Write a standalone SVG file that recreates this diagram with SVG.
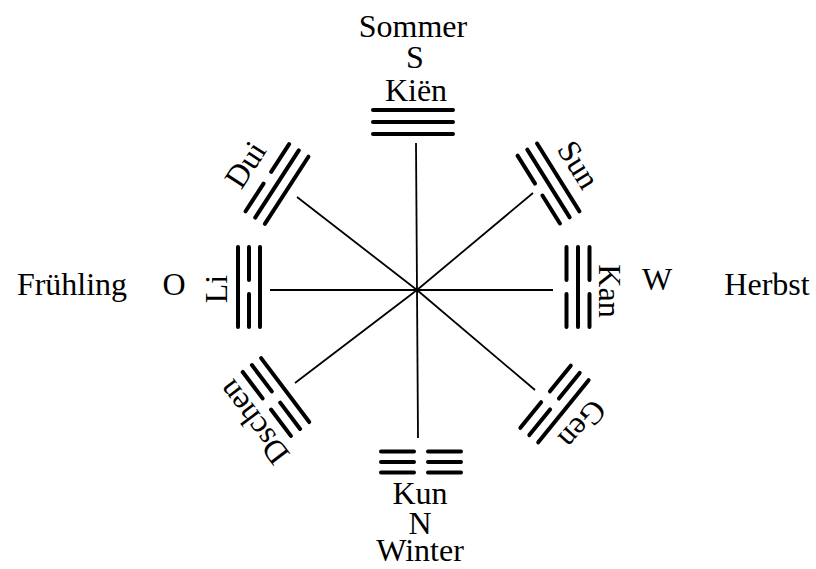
<svg xmlns="http://www.w3.org/2000/svg" xmlns:xlink="http://www.w3.org/1999/xlink" width="816" height="569" viewBox="0 0 816 569">
<style>
  .t { font-family: "Liberation Serif", "DejaVu Serif", serif; font-size: 32px; fill: #000; text-anchor: middle; }
  .bar { stroke: #000; stroke-width: 4; stroke-linecap: round; fill: none; }
  .ray { stroke: #000; stroke-width: 1.8; fill: none; }
</style>
<defs>
  <path id="yang" class="bar" d="M-40 0H40"/>
  <path id="yin" class="bar" d="M-40 0H-7M7 0H40"/>
</defs>
<rect width="816" height="569" fill="#fff"/>
<g id="connectors">
  <line class="ray" x1="417" y1="290" x2="416" y2="143"/>
  <line class="ray" x1="417" y1="290" x2="418" y2="438"/>
  <line class="ray" x1="417" y1="290" x2="270" y2="290"/>
  <line class="ray" x1="417" y1="290" x2="553" y2="290"/>
  <line class="ray" x1="417" y1="290" x2="297" y2="197"/>
  <line class="ray" x1="417" y1="290" x2="533" y2="193"/>
  <line class="ray" x1="417" y1="290" x2="295" y2="383"/>
  <line class="ray" x1="417" y1="290" x2="535" y2="390"/>
</g>
<g id="kien">
  <g transform="translate(413,122)">
    <use xlink:href="#yang" y="-12"/><use xlink:href="#yang" y="0"/><use xlink:href="#yang" y="12"/>
  </g>
  <text class="t" x="413" y="37">Sommer</text>
  <text class="t" x="415" y="68">S</text>
  <text class="t" x="416" y="101">Kiën</text>
</g>
<g id="kun">
  <g transform="translate(421,462)">
    <use xlink:href="#yin" y="-10.5"/><use xlink:href="#yin" y="0"/><use xlink:href="#yin" y="10.5"/>
  </g>
  <text class="t" x="420" y="504">Kun</text>
  <text class="t" x="420" y="534">N</text>
  <text class="t" x="420" y="561">Winter</text>
</g>
<g id="li">
  <g transform="translate(249,287) rotate(-90)">
    <use xlink:href="#yang" y="-11"/><use xlink:href="#yin" y="0"/><use xlink:href="#yang" y="11"/>
  </g>
  <text class="t" transform="translate(227,289) rotate(-90)">Li</text>
  <text class="t" x="174" y="295">O</text>
  <text class="t" x="72" y="295">Frühling</text>
</g>
<g id="kan">
  <g transform="translate(578,287) rotate(90)">
    <use xlink:href="#yin" y="-11.5"/><use xlink:href="#yang" y="0"/><use xlink:href="#yin" y="11.5"/>
  </g>
  <text class="t" transform="translate(599,291) rotate(90)">Kan</text>
  <text class="t" x="657" y="290">W</text>
  <text class="t" x="767" y="295">Herbst</text>
</g>
<g id="dui">
  <g transform="translate(277,184) rotate(-57)">
    <use xlink:href="#yin" y="-11.5"/><use xlink:href="#yang" y="0"/><use xlink:href="#yang" y="11.5"/>
  </g>
  <text class="t" transform="translate(246,165) rotate(-57)" y="10">Dui</text>
</g>
<g id="sun">
  <g transform="translate(548.5,183.5) rotate(58)">
    <use xlink:href="#yang" y="-11.5"/><use xlink:href="#yang" y="0"/><use xlink:href="#yin" y="11.5"/>
  </g>
  <text class="t" transform="translate(578,165) rotate(58)" y="10">Sun</text>
</g>
<g id="dschen">
  <g transform="translate(276,397) rotate(-127)">
    <use xlink:href="#yin" y="-11.5"/><use xlink:href="#yin" y="0"/><use xlink:href="#yang" y="11.5"/>
  </g>
  <text class="t" transform="translate(254,422) rotate(-127)" y="10">Dschen</text>
</g>
<g id="gen">
  <g transform="translate(554.5,404) rotate(129)">
    <use xlink:href="#yang" y="-11.5"/><use xlink:href="#yin" y="0"/><use xlink:href="#yin" y="11.5"/>
  </g>
  <text class="t" transform="translate(582,424) rotate(132)" y="10">Gen</text>
</g>
</svg>
